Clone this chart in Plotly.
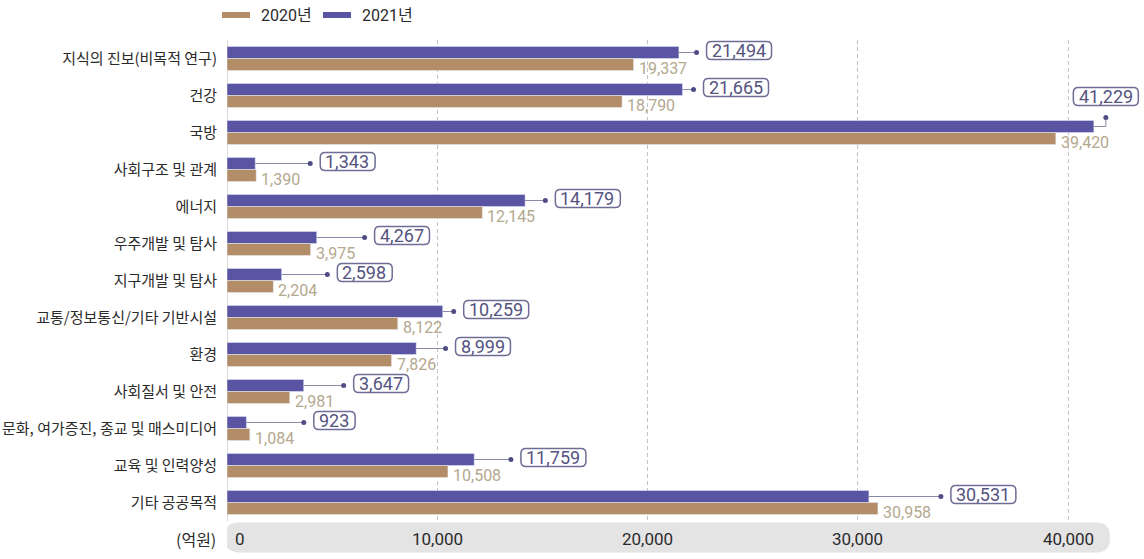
import plotly.graph_objects as go

# R&D budget by socio-economic objective (unit: 100 million KRW)
categories = [
    "지식의 진보(비목적 연구)", "건강", "국방", "사회구조 및 관계", "에너지",
    "우주개발 및 탐사", "지구개발 및 탐사", "교통/정보통신/기타 기반시설", "환경",
    "사회질서 및 안전", "문화, 여가증진, 종교 및 매스미디어", "교육 및 인력양성", "기타 공공목적",
]
values_2020 = [19337, 18790, 39420, 1390, 12145, 3975, 2204, 8122, 7826, 2981, 1084, 10508, 30958]
values_2021 = [21494, 21665, 41229, 1343, 14179, 4267, 2598, 10259, 8999, 3647, 923, 11759, 30531]
x_ticks = [0, 10000, 20000, 30000, 40000]
x_tick_labels = ["0", "10,000", "20,000", "30,000", "40,000"]
unit_label = "(억원)"
series_names = ["2020년", "2021년"]

COL_2020 = "#b38d68"
COL_2021 = "#5955a3"
COL_2020_TXT = "#b4a88f"
COL_BOX_TXT = "#55537f"
COL_BOX_LINE = "#6e6d95"
COL_DOT = "#4f4c86"
COL_CONN = "#8a89aa"
KR = "Noto Sans CJK KR"
NUM = "Roboto, Noto Sans CJK KR"

W, H = 1144, 559
M_L, M_R, M_T, M_B = 227, 0, 40, 38
PX_PER_UNIT = 0.021025                      # horizontal scale
X_MAX = (W - M_L - M_R) / PX_PER_UNIT
PILL_END = 42000                            # right end of the axis band
n = len(categories)
ROW_PX = (H - M_T - M_B) / n
BARGAP = 0.35
OFF = (1 - BARGAP) / 4                      # centre offset of each bar in a group


def text_width(s, size):
    """Approximate advance width of a numeric label in Roboto."""
    w = 0.0
    for ch in s:
        w += 0.192 * size if ch == "," else 0.5615 * size
    return w


def rounded_rect(x0, x1, y0, y1, r):
    return (f"M {x0 + r},{y0} L {x1 - r},{y0} Q {x1},{y0} {x1},{y0 + r} "
            f"L {x1},{y1 - r} Q {x1},{y1} {x1 - r},{y1} L {x0 + r},{y1} "
            f"Q {x0},{y1} {x0},{y1 - r} L {x0},{y0 + r} Q {x0},{y0} {x0 + r},{y0} Z")


idx = list(range(n))
fig = go.Figure()
fig.add_trace(go.Bar(y=idx, x=values_2021, orientation="h", marker_color=COL_2021,
                     name=series_names[1], showlegend=False))
fig.add_trace(go.Bar(y=idx, x=values_2020, orientation="h", marker_color=COL_2020,
                     name=series_names[0], showlegend=False))

shapes = []
annotations = []
conn_x, conn_y, dot_x, dot_y = [], [], [], []

for i in idx:
    v0, v1 = values_2020[i], values_2021[i]
    lab0, lab1 = f"{v0:,}", f"{v1:,}"
    y1 = i - OFF
    y0 = i + OFF
    # 2020 value next to its bar
    annotations.append(dict(x=v0, y=y0, text=lab0, showarrow=False, xanchor="left",
                            xshift=3, yshift=-4, font=dict(family=NUM, size=16, color=COL_2020_TXT)))
    # callout position for the 2021 value
    end0_px = v0 * PX_PER_UNIT + 4 + text_width(lab0, 16)
    end1_px = v1 * PX_PER_UNIT
    dot_px = max(end1_px, end0_px) + 11
    tw = text_width(lab1, 18)
    box_w = tw + 11
    if M_L + dot_px + 10 + box_w > W:
        # not enough room on the right: put the callout above the bar
        dx = v1 + 12 / PX_PER_UNIT
        dy = y1 - 9 / ROW_PX
        conn_x += [v1, dx, dx, None]
        conn_y += [y1, y1, dy, None]
        dot_x.append(dx)
        dot_y.append(dy)
        shapes.append(dict(type="path", xref="x", yref="y", xsizemode="pixel", ysizemode="pixel",
                           xanchor=dx, yanchor=dy,
                           path=rounded_rect(-box_w / 2, box_w / 2, 12, 30, 5),
                           line=dict(color=COL_BOX_LINE, width=1.5), fillcolor="white", layer="above"))
        annotations.append(dict(x=dx, y=dy, text=lab1, showarrow=False, xanchor="center",
                                yshift=21, font=dict(family=NUM, size=18, color=COL_BOX_TXT)))
    else:
        dx = dot_px / PX_PER_UNIT
        conn_x += [v1, dx, None]
        conn_y += [y1, y1, None]
        dot_x.append(dx)
        dot_y.append(y1)
        shapes.append(dict(type="path", xref="x", yref="y", xsizemode="pixel", ysizemode="pixel",
                           xanchor=dx, yanchor=y1,
                           path=rounded_rect(10, 10 + box_w, -7, 11, 5),
                           line=dict(color=COL_BOX_LINE, width=1.5), fillcolor="white", layer="above"))
        annotations.append(dict(x=dx, y=y1, text=lab1, showarrow=False, xanchor="left",
                                xshift=13, yshift=2, font=dict(family=NUM, size=18, color=COL_BOX_TXT)))

fig.add_trace(go.Scatter(x=conn_x, y=conn_y, mode="lines", line=dict(color=COL_CONN, width=1),
                         showlegend=False, hoverinfo="skip", cliponaxis=False))
fig.add_trace(go.Scatter(x=dot_x, y=dot_y, mode="markers", marker=dict(color=COL_DOT, size=5),
                         showlegend=False, hoverinfo="skip", cliponaxis=False))

# grey rounded band behind the x tick labels
pill_px = PILL_END * PX_PER_UNIT
shapes.append(dict(type="path", xref="x", yref="paper", xsizemode="pixel", ysizemode="pixel",
                   xanchor=0, yanchor=0, path=rounded_rect(-2, pill_px, -31.5, -1.5, 14),
                   line=dict(width=0), fillcolor="#e4e4e4", layer="below"))

for v, t in zip(x_ticks, x_tick_labels):
    annotations.append(dict(x=v, y=0, xref="x", yref="paper", text=t, showarrow=False,
                            xanchor="left" if v == 0 else "center", xshift=6 if v == 0 else 0,
                            yanchor="middle", yshift=-18,
                            font=dict(family=NUM, size=17, color="#2b2b2b")))
annotations.append(dict(x=0, y=0, xref="paper", yref="paper", text=unit_label, showarrow=False,
                        xanchor="right", xshift=-9, yanchor="middle", yshift=-18,
                        font=dict(family=KR, size=16, color="#2b2b2b")))

# legend
legend_items = [(series_names[0], COL_2020, -5), (series_names[1], COL_2021, 96)]
for name, col, x0 in legend_items:
    shapes.append(dict(type="rect", xref="paper", yref="paper", xsizemode="pixel", ysizemode="pixel",
                       xanchor=0, yanchor=1, x0=x0, x1=x0 + 28, y0=22, y1=28,
                       line=dict(width=0), fillcolor=col))
    annotations.append(dict(x=0, y=1, xref="paper", yref="paper", text=name, showarrow=False,
                            xanchor="left", xshift=x0 + 37, yanchor="middle", yshift=25,
                            font=dict(family=NUM, size=16, color="#2b2b2b")))

fig.update_layout(
    width=W, height=H,
    margin=dict(l=M_L, r=M_R, t=M_T, b=M_B, pad=0),
    paper_bgcolor="white", plot_bgcolor="white",
    barmode="group", bargap=BARGAP, bargroupgap=0,
    shapes=shapes, annotations=annotations,
    xaxis=dict(range=[0, X_MAX], tickvals=x_ticks[1:], showticklabels=False, automargin=False,
               showgrid=True, gridcolor="#c4c4c4", griddash="4px,3px", gridwidth=1,
               zeroline=True, zerolinecolor="#dadada", zerolinewidth=1, showline=False, fixedrange=True),
    yaxis=dict(range=[n - 0.5, -0.5], tickvals=idx, ticktext=categories, automargin=False,
               tickfont=dict(family=KR, size=15, color="#2b2b2b"),
               ticks="", ticklabelstandoff=9, showgrid=False, zeroline=False, showline=False),
    showlegend=False,
)

fig.write_html("out.html")
